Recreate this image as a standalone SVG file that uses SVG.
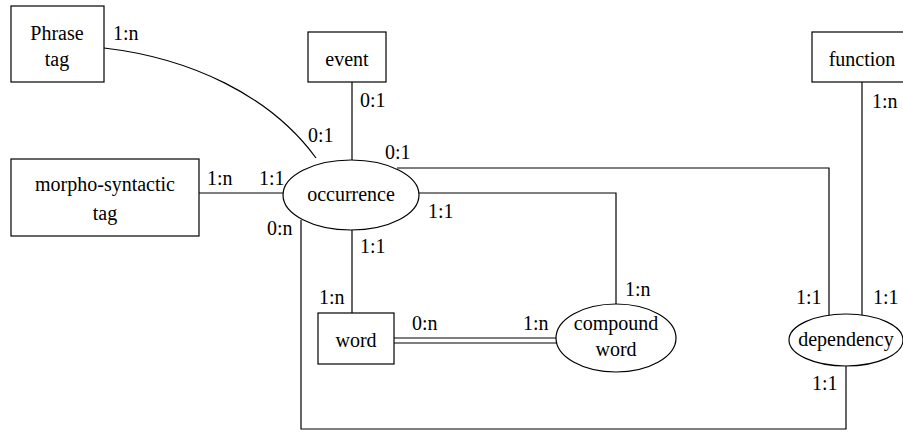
<svg xmlns="http://www.w3.org/2000/svg" width="903" height="432" viewBox="0 0 903 432">
<rect width="903" height="432" fill="#fff"/>
<g id="connectors" fill="none" stroke="#000" stroke-width="1.2">
<path d="M104,48 C190,58 270,95 316,158"/>
<line x1="352" y1="82" x2="352" y2="160"/>
<line x1="199" y1="193" x2="283" y2="193"/>
<path d="M397,168 L829,168 L829,315"/>
<line x1="862" y1="82" x2="862" y2="315"/>
<path d="M419,193 L616,193 L616,305"/>
<line x1="352" y1="230" x2="352" y2="313"/>
<path d="M301,220 L301,429 L846,429 L846,366"/>
<line x1="394" y1="338" x2="557" y2="338"/>
<line x1="394" y1="343" x2="557" y2="343"/>
</g>
<g id="phrase-tag"><rect fill="#fff" stroke="#000" stroke-width="1.2" x="11" y="6" width="93" height="76"/><text font-family="Liberation Serif" font-size="20" text-anchor="middle" x="57" y="40">Phrase</text><text font-family="Liberation Serif" font-size="20" text-anchor="middle" x="57" y="66">tag</text></g>
<g id="event"><rect fill="#fff" stroke="#000" stroke-width="1.2" x="308" y="32" width="78" height="50"/><text font-family="Liberation Serif" font-size="20" text-anchor="middle" x="347" y="66">event</text></g>
<g id="function"><rect fill="#fff" stroke="#000" stroke-width="1.2" x="812" y="32" width="100" height="50"/><text font-family="Liberation Serif" font-size="20" text-anchor="middle" x="862" y="66">function</text></g>
<g id="morpho-syntactic-tag"><rect fill="#fff" stroke="#000" stroke-width="1.2" x="11" y="159" width="188" height="77"/><text font-family="Liberation Serif" font-size="20" text-anchor="middle" x="105" y="191">morpho-syntactic</text><text font-family="Liberation Serif" font-size="20" text-anchor="middle" x="105" y="220">tag</text></g>
<g id="occurrence"><ellipse fill="#fff" stroke="#000" stroke-width="1.2" cx="351" cy="195" rx="68" ry="35"/><text font-family="Liberation Serif" font-size="20" text-anchor="middle" x="351" y="201">occurrence</text></g>
<g id="word"><rect fill="#fff" stroke="#000" stroke-width="1.2" x="318" y="313" width="76" height="51"/><text font-family="Liberation Serif" font-size="20" text-anchor="middle" x="356" y="347">word</text></g>
<g id="compound-word"><ellipse fill="#fff" stroke="#000" stroke-width="1.2" cx="616" cy="338" rx="60" ry="34"/><text font-family="Liberation Serif" font-size="20" text-anchor="middle" x="616" y="330">compound</text><text font-family="Liberation Serif" font-size="20" text-anchor="middle" x="616" y="356">word</text></g>
<g id="dependency"><ellipse fill="#fff" stroke="#000" stroke-width="1.2" cx="846" cy="340" rx="57" ry="26"/><text font-family="Liberation Serif" font-size="20" text-anchor="middle" x="846" y="346">dependency</text></g>
<g id="labels">
<text font-family="Liberation Serif" font-size="20" x="113" y="40">1:n</text>
<text font-family="Liberation Serif" font-size="20" x="360" y="107">0:1</text>
<text font-family="Liberation Serif" font-size="20" x="308" y="142">0:1</text>
<text font-family="Liberation Serif" font-size="20" x="385" y="159">0:1</text>
<text font-family="Liberation Serif" font-size="20" x="207" y="185">1:n</text>
<text font-family="Liberation Serif" font-size="20" x="259" y="185">1:1</text>
<text font-family="Liberation Serif" font-size="20" x="428" y="218">1:1</text>
<text font-family="Liberation Serif" font-size="20" x="267" y="235">0:n</text>
<text font-family="Liberation Serif" font-size="20" x="360" y="253">1:1</text>
<text font-family="Liberation Serif" font-size="20" x="319" y="304">1:n</text>
<text font-family="Liberation Serif" font-size="20" x="625" y="296">1:n</text>
<text font-family="Liberation Serif" font-size="20" x="412" y="330">0:n</text>
<text font-family="Liberation Serif" font-size="20" x="523" y="330">1:n</text>
<text font-family="Liberation Serif" font-size="20" x="796" y="304">1:1</text>
<text font-family="Liberation Serif" font-size="20" x="873" y="304">1:1</text>
<text font-family="Liberation Serif" font-size="20" x="812" y="390">1:1</text>
<text font-family="Liberation Serif" font-size="20" x="872" y="108">1:n</text>
</g>
</svg>
